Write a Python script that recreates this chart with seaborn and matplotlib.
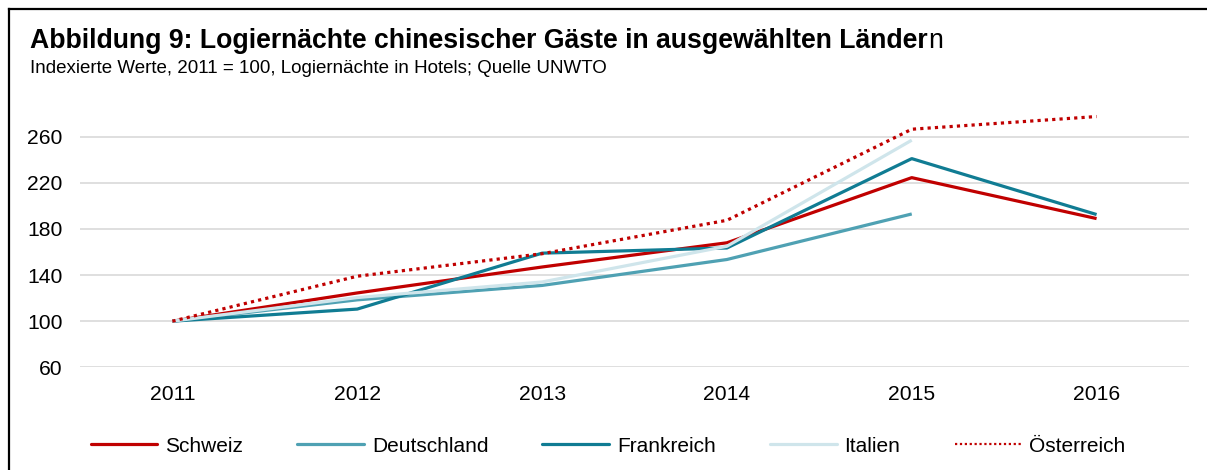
import numpy as np
import pandas as pd
import matplotlib
matplotlib.use("Agg")
import matplotlib.pyplot as plt
import seaborn as sns
from matplotlib.lines import Line2D

years = [2011, 2012, 2013, 2014, 2015, 2016]
schweiz = [100, 124.5, 147, 168, 224.5, 189]
deutschland = [100, 118.5, 131, 153.5, 193, np.nan]
frankreich = [100, 110.5, 159, 163.5, 241, 192.5]
italien = [100, 120.5, 134, 165, 257, np.nan]
oesterreich = [100, 139, 158.5, 187.5, 266.5, 277.5]
yticks = [60, 100, 140, 180, 220, 260]

series = [
    ("Schweiz", schweiz, "#C00000", "-"),
    ("Deutschland", deutschland, "#4FA1B3", "-"),
    ("Frankreich", frankreich, "#107C93", "-"),
    ("Italien", italien, "#CFE5EB", "-"),
    ("Österreich", oesterreich, "#C00000", (0, (1, 1.3))),
]

sns.set_theme(style="white")
plt.rcParams["font.family"] = ["Liberation Sans", "DejaVu Sans"]
plt.rcParams["text.color"] = "black"
plt.rcParams["axes.labelcolor"] = "black"
plt.rcParams["xtick.color"] = "black"
plt.rcParams["ytick.color"] = "black"

fig = plt.figure(figsize=(12.07, 4.70), dpi=100)
ax = fig.add_axes([80 / 1207, 1 - 367.3 / 470, (1189 - 80) / 1207, (367.3 - 90.6) / 470])

for name, vals, color, ls in series:
    df = pd.DataFrame({"Jahr": years, "Wert": vals}).dropna()
    sns.lineplot(data=df, x="Jahr", y="Wert", ax=ax, color=color, linewidth=2.3,
                 linestyle=ls, label=name, legend=False, solid_capstyle="butt")

ax.set_xlim(2010.5, 2016.5)
ax.set_ylim(60, 300)
ax.set_yticks(yticks)
ax.set_xticks(years)
ax.set_xticklabels([str(y) for y in years])
ax.yaxis.grid(True, color="#D9D9D9", linewidth=1.2)
ax.xaxis.grid(False)
for s in ax.spines.values():
    s.set_visible(False)
ax.tick_params(axis="y", length=0, pad=12.5, labelsize=15.2, labelcolor="#000000")
ax.tick_params(axis="x", length=0, pad=13, labelsize=15.2, labelcolor="#000000")
ax.set_xlabel("")
ax.set_ylabel("")

handles = []
for name, vals, color, ls in series:
    handles.append(Line2D([0], [0], color=color, linewidth=2.3 if ls == "-" else 1.6,
                          linestyle=ls if ls == "-" else (0, (1, 1.2))))
leg = fig.legend(handles, [s[0] for s in series], ncol=5, loc="center",
                 bbox_to_anchor=(608 / 1207, 1 - 446 / 470), frameon=False,
                 fontsize=15.0, handlelength=3.2, handletextpad=0.38, columnspacing=2.6)
for txt in leg.get_texts():
    txt.set_color("black")

# Title
t1 = fig.text(30 / 1207, 1 - 48 / 470,
              "Abbildung 9: Logiernächte chinesischer Gäste in ausgewählten Länder",
              fontsize=19.2, fontweight="bold", va="baseline", ha="left", color="black")
fig.canvas.draw()
r = fig.canvas.get_renderer()
bb = t1.get_window_extent(renderer=r)
fig.text(bb.x1 / fig.bbox.width + 0.5 / 1207, 1 - 48 / 470, "n", fontsize=19.2,
         va="baseline", ha="left", color="black")
fig.text(30 / 1207, 1 - 73 / 470,
         "Indexierte Werte, 2011 = 100, Logiernächte in Hotels; Quelle UNWTO",
         fontsize=13.5, va="baseline", ha="left", color="black")

# Border
fig.add_artist(Line2D([9 / 1207, 9 / 1207], [0, 1 - 9 / 470], color="black", linewidth=1.6,
                      transform=fig.transFigure, solid_capstyle="projecting"))
fig.add_artist(Line2D([9 / 1207, 1], [1 - 9 / 470, 1 - 9 / 470], color="black", linewidth=1.6,
                      transform=fig.transFigure, solid_capstyle="projecting"))

fig.savefig("out.png", dpi=100)
